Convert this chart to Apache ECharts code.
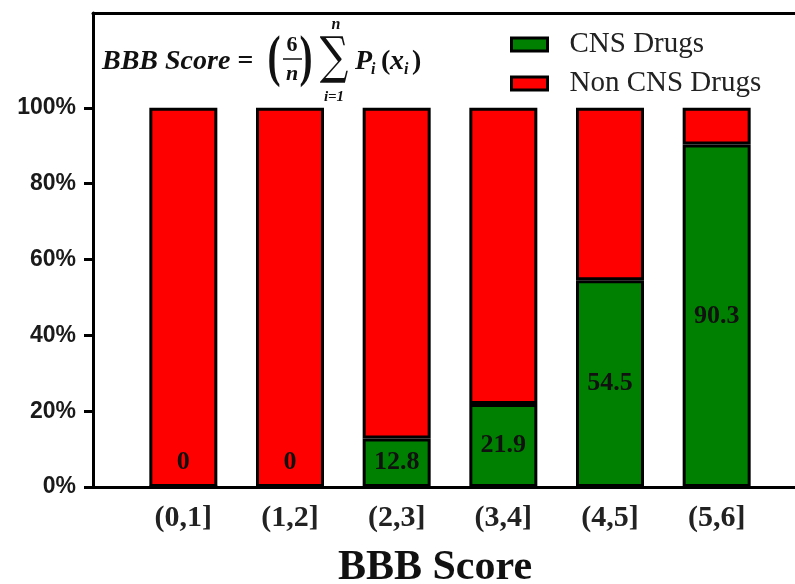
<!DOCTYPE html>
<html>
<head>
<meta charset="utf-8">
<script src="https://cdn.jsdelivr.net/npm/echarts@6/dist/echarts.min.js"></script>
<style>
  html, body { margin: 0; padding: 0; background: #fff; }
  #chart { width: 795px; height: 584px; }
</style>
</head>
<body>
<div id="chart"></div>
<script>
var categories = ['(0,1]', '(1,2]', '(2,3]', '(3,4]', '(4,5]', '(5,6]'];
var cnsValues = [0, 0, 12.8, 21.9, 54.5, 90.3];
var nonCnsValues = [100, 100, 87.2, 78.1, 45.5, 9.7];
var yTicks = [0, 20, 40, 60, 80, 100];

var serif = 'Liberation Serif';
var chart = echarts.init(document.getElementById('chart'), null, { renderer: 'canvas' });

// zero-height bars get their label just above the axis
function cnsData(arr) {
  return arr.map(function (v) {
    if (v === 0) return { value: v, label: { position: 'top', distance: 10 } };
    return v;
  });
}

function barStyle(color) {
  return { color: color, borderColor: '#000', borderWidth: 3 };
}

function txt(x, y, s, font, extra) {
  var el = {
    type: 'text', x: x, y: y, z: 10,
    style: { text: s, font: font, fill: '#111', align: 'left', verticalAlign: 'middle' }
  };
  if (extra) {
    for (var k in extra) {
      if (k === 'align') el.style.align = extra[k];
      else el[k] = extra[k];
    }
  }
  return el;
}

var option = {
  animation: false,
  grid: [
    { left: 130, right: 25, top: 13, bottom: 97, outerBoundsMode: 'none', containLabel: false },
    { left: 93, right: 0, top: 13, bottom: 97, outerBoundsMode: 'none', containLabel: false }
  ],
  legend: {
    orient: 'vertical',
    left: 505,
    top: 25,
    icon: 'rect',
    itemWidth: 36,
    itemHeight: 13,
    itemGap: 10,
    itemStyle: { borderColor: '#000', borderWidth: 3 },
    textStyle: { fontFamily: serif, fontSize: 29, lineHeight: 28, color: '#222', padding: [0, 0, 0, 17] },
    data: ['CNS Drugs', 'Non CNS Drugs']
  },
  xAxis: [{
    type: 'category',
    gridIndex: 0,
    data: categories,
    axisLine: { show: false },
    axisTick: { show: false },
    axisLabel: {
      margin: 16,
      fontFamily: serif,
      fontWeight: 'bold',
      fontSize: 30,
      color: '#222'
    }
  }, {
    type: 'value',
    gridIndex: 1,
    min: 0,
    max: 1,
    position: 'bottom',
    splitLine: { show: false },
    axisTick: { show: false },
    axisLabel: { show: false },
    axisLine: { show: true, onZero: false, lineStyle: { color: '#000', width: 3 } },
    name: 'BBB Score',
    nameLocation: 'middle',
    nameGap: 60,
    nameTextStyle: { fontFamily: serif, fontWeight: 'bold', fontSize: 42, color: '#111', padding: [0, 18, 0, 0] }
  }, {
    type: 'value',
    gridIndex: 1,
    min: 0,
    max: 1,
    position: 'top',
    splitLine: { show: false },
    axisTick: { show: false },
    axisLabel: { show: false },
    axisLine: { show: true, onZero: false, lineStyle: { color: '#000', width: 3 } }
  }],
  yAxis: [{
    type: 'value',
    gridIndex: 0,
    min: 0,
    max: 125,
    show: false
  }, {
    type: 'value',
    gridIndex: 1,
    min: 0,
    max: 125,
    splitLine: { show: false },
    axisLine: { show: true, onZero: false, lineStyle: { color: '#000', width: 3 } },
    axisTick: { show: true, customValues: yTicks, length: 9, lineStyle: { color: '#000', width: 3 } },
    axisLabel: {
      customValues: yTicks,
      formatter: '{value}%',
      margin: 17,
      fontFamily: 'Liberation Sans',
      fontWeight: 'bold',
      fontSize: 23,
      color: '#1a1a1a'
    }
  }],
  series: [{
    name: 'CNS Drugs',
    type: 'bar',
    xAxisIndex: 0,
    yAxisIndex: 0,
    stack: 'total',
    barWidth: 68,
    itemStyle: barStyle('#008000'),
    label: {
      show: true,
      position: 'inside',
      fontFamily: serif,
      fontWeight: 'bold',
      fontSize: 26,
      color: '#111'
    },
    data: cnsData(cnsValues)
  }, {
    name: 'Non CNS Drugs',
    type: 'bar',
    xAxisIndex: 0,
    yAxisIndex: 0,
    stack: 'total',
    barWidth: 68,
    itemStyle: barStyle('#ff0000'),
    data: nonCnsValues
  }],
  graphic: [
    txt(102, 62, 'BBB Score =', 'italic bold 28px "Liberation Serif"'),
    txt(274, 61, '(', 'bold 56px "Liberation Serif"', { align: 'center', scaleX: 0.7 }),
    txt(292, 45, '6', 'bold 22px "Liberation Serif"', { align: 'center' }),
    { type: 'line', z: 10, shape: { x1: 283, y1: 59, x2: 302, y2: 59 }, style: { stroke: '#111', lineWidth: 1.5 } },
    txt(292, 74, 'n', 'italic bold 22px "Liberation Serif"', { align: 'center' }),
    txt(306, 61, ')', 'bold 56px "Liberation Serif"', { align: 'center', scaleX: 0.7 }),
    txt(334, 60, '\u2211', '40px "DejaVu Serif"', { align: 'center', scaleY: 1.27 }),
    txt(336, 25, 'n', 'italic bold 16px "Liberation Serif"', { align: 'center' }),
    txt(334, 97, 'i=1', 'italic bold 15px "Liberation Serif"', { align: 'center' }),
    txt(355, 62, 'P', 'italic bold 28px "Liberation Serif"'),
    txt(371, 70, 'i', 'italic bold 16px "Liberation Serif"'),
    txt(381, 62, '(', 'bold 28px "Liberation Serif"'),
    txt(390, 62, 'x', 'italic bold 28px "Liberation Serif"'),
    txt(404, 70, 'i', 'italic bold 16px "Liberation Serif"'),
    txt(412, 62, ')', 'bold 28px "Liberation Serif"')
  ]
};

chart.setOption(option);
</script>
</body>
</html>
